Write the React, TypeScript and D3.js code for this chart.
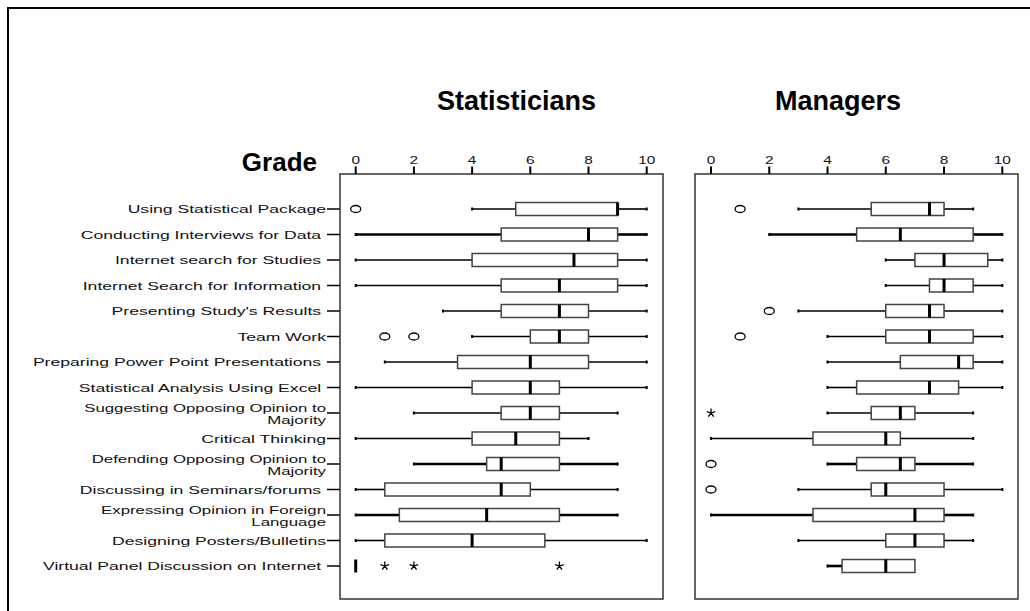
import React from "react";
import * as d3 from "d3";

// categories, top to bottom (trailing spaces are in the original labels)
const categories = [
  "Using Statistical Package",
  "Conducting Interviews for Data ",
  "Internet search for Studies ",
  "Internet Search for Information ",
  "Presenting Study's Results ",
  "Team Work",
  "Preparing Power Point Presentations ",
  "Statistical Analysis Using Excel ",
  "Suggesting Opposing Opinion to|Majority",
  "Critical Thinking",
  "Defending Opposing Opinion to|Majority",
  "Discussing in Seminars/forums ",
  "Expressing Opinion in Foreign|Language",
  "Designing Posters/Bulletins",
  "Virtual Panel Discussion on Internet ",
];

const gradeTicks = [0, 2, 4, 6, 8, 10];

// [min, q1, median, q3, max]
const statisticiansBox = [
  [4, 5.5, 9, 9, 10],
  [0, 5, 8, 9, 10],
  [0, 4, 7.5, 9, 10],
  [0, 5, 7, 9, 10],
  [3, 5, 7, 8, 10],
  [4, 6, 7, 8, 10],
  [1, 3.5, 6, 8, 10],
  [0, 4, 6, 7, 10],
  [2, 5, 6, 7, 9],
  [0, 4, 5.5, 7, 8],
  [2, 4.5, 5, 7, 9],
  [0, 1, 5, 6, 9],
  [0, 1.5, 4.5, 7, 9],
  [0, 1, 4, 6.5, 10],
  [0, 0, 0, 0, 0],
];
const statisticiansOutliers = [[0], [], [], [], [], [1, 2], [], [], [], [], [], [], [], [], []];
const statisticiansExtremes = [[], [], [], [], [], [], [], [], [], [], [], [], [], [], [1, 2, 7]];

const managersBox = [
  [3, 5.5, 7.5, 8, 9],
  [2, 5, 6.5, 9, 10],
  [6, 7, 8, 9.5, 10],
  [6, 7.5, 8, 9, 10],
  [3, 6, 7.5, 8, 10],
  [4, 6, 7.5, 9, 10],
  [4, 6.5, 8.5, 9, 10],
  [4, 5, 7.5, 8.5, 10],
  [4, 5.5, 6.5, 7, 9],
  [0, 3.5, 6, 6.5, 9],
  [4, 5, 6.5, 7, 9],
  [3, 5.5, 6, 8, 10],
  [0, 3.5, 7, 8, 9],
  [3, 6, 7, 8, 9],
  [4, 4.5, 6, 7, 7],
];
const managersOutliers = [[1], [], [], [], [2], [1], [], [], [], [], [0], [0], [], [], []];
const managersExtremes = [[], [], [], [], [], [], [], [], [0], [], [], [], [], [], []];

const panels = [
  {
    title: "Statisticians",
    titleX: 437,
    left: 340,
    right: 663,
    range: [355.7, 646.7],
    boxes: statisticiansBox,
    outliers: statisticiansOutliers,
    extremes: statisticiansExtremes,
    thick: [1, 10, 12],
  },
  {
    title: "Managers",
    titleX: 775,
    left: 695,
    right: 1018,
    range: [711, 1002.3],
    boxes: managersBox,
    outliers: managersOutliers,
    extremes: managersExtremes,
    thick: [1, 10, 12, 14],
  },
];

const top = 174;
const bottom = 599;
const boxH = 13;
const font = "Arial, 'Liberation Sans', Helvetica, sans-serif";

const y = d3.scalePoint<string>().domain(categories).range([209, 566]);

// five armed asterisk used for extreme values
const star = (cx: number, cy: number) => {
  const r = 4.5;
  return d3
    .range(5)
    .map((k) => {
      const a = -Math.PI / 2 + (k * 2 * Math.PI) / 5;
      return `M${cx},${cy}L${cx + r * Math.cos(a)},${cy + r * Math.sin(a)}`;
    })
    .join("");
};

const Panel = ({ p }: { p: (typeof panels)[number] }) => {
  const x = d3.scaleLinear().domain([0, 10]).range(p.range);
  return (
    <g>
      <text x={p.titleX} y={110} fontFamily={font} fontWeight="bold" fontSize={27} fill="#000">
        {p.title}
      </text>
      <rect x={p.left} y={top} width={p.right - p.left} height={bottom - top} fill="none" stroke="#333" strokeWidth={1.5} />
      {gradeTicks.map((t) => (
        <g key={t}>
          <line x1={x(t)} x2={x(t)} y1={166.5} y2={top} stroke="#000" strokeWidth={2} />
          <g transform={`translate(${x(t)},164) scale(1.4,1)`}>
            <text textAnchor="middle" fontFamily={font} fontSize={11} fill="#111">
              {t}
            </text>
          </g>
        </g>
      ))}
      {categories.map((c, i) => {
        const [mn, q1, md, q3, mx] = p.boxes[i];
        const cy = y(c)!;
        const sw = p.thick.includes(i) ? 2.6 : 1.6;
        return (
          <g key={c}>
            {mn < q1 && <line x1={x(mn)} x2={x(q1)} y1={cy} y2={cy} stroke="#000" strokeWidth={sw} />}
            {mx > q3 && <line x1={x(q3)} x2={x(mx)} y1={cy} y2={cy} stroke="#000" strokeWidth={sw} />}
            {mn < q1 && <rect x={x(mn) - 1} y={cy - 1.5} width={2} height={3} fill="#000" />}
            {mx > q3 && <rect x={x(mx) - 1} y={cy - 1.5} width={2} height={3} fill="#000" />}
            {q3 > q1 && (
              <rect
                x={x(q1)}
                y={cy - boxH / 2}
                width={x(q3) - x(q1)}
                height={boxH}
                fill="#fff"
                stroke="#444"
                strokeWidth={1.5}
              />
            )}
            <line x1={x(md)} x2={x(md)} y1={cy - boxH / 2} y2={cy + boxH / 2} stroke="#000" strokeWidth={3} />
            {p.outliers[i].map((v, k) => (
              <ellipse key={k} cx={x(v)} cy={cy} rx={5} ry={3.5} fill="none" stroke="#000" strokeWidth={1.3} />
            ))}
            {p.extremes[i].map((v, k) => (
              <path key={k} d={star(x(v), cy)} stroke="#000" strokeWidth={1.3} fill="none" />
            ))}
          </g>
        );
      })}
    </g>
  );
};

export default function App() {
  return (
    <svg
      width={1030}
      height={611}
      style={{ position: "absolute", left: 0, top: 0, background: "#fff" }}
    >
      <rect x={8} y={8} width={1100} height={700} fill="none" stroke="#000" strokeWidth={2} />
      <text x={317} y={171} textAnchor="end" fontFamily={font} fontWeight="bold" fontSize={26} fill="#000">
        Grade
      </text>
      {/* category axis on the left of the first panel */}
      {categories.map((c) => {
        const cy = y(c)!;
        const lines = c.split("|");
        return (
          <g key={c}>
            <line x1={327} x2={340} y1={cy} y2={cy} stroke="#000" strokeWidth={1.5} />
            {lines.map((l, k) => (
              <g
                key={k}
                transform={`translate(326,${lines.length > 1 ? cy - 1 + k * 11.5 : cy + 4}) scale(1.6,1)`}
              >
                <text
                  textAnchor="end"
                  fontFamily={font}
                  fontSize={lines.length > 1 ? 10.5 : 11}
                  fill="#111"
                  style={{ whiteSpace: "pre" }}
                >
                  {l}
                </text>
              </g>
            ))}
          </g>
        );
      })}
      {panels.map((p) => (
        <Panel key={p.title} p={p} />
      ))}
    </svg>
  );
}
